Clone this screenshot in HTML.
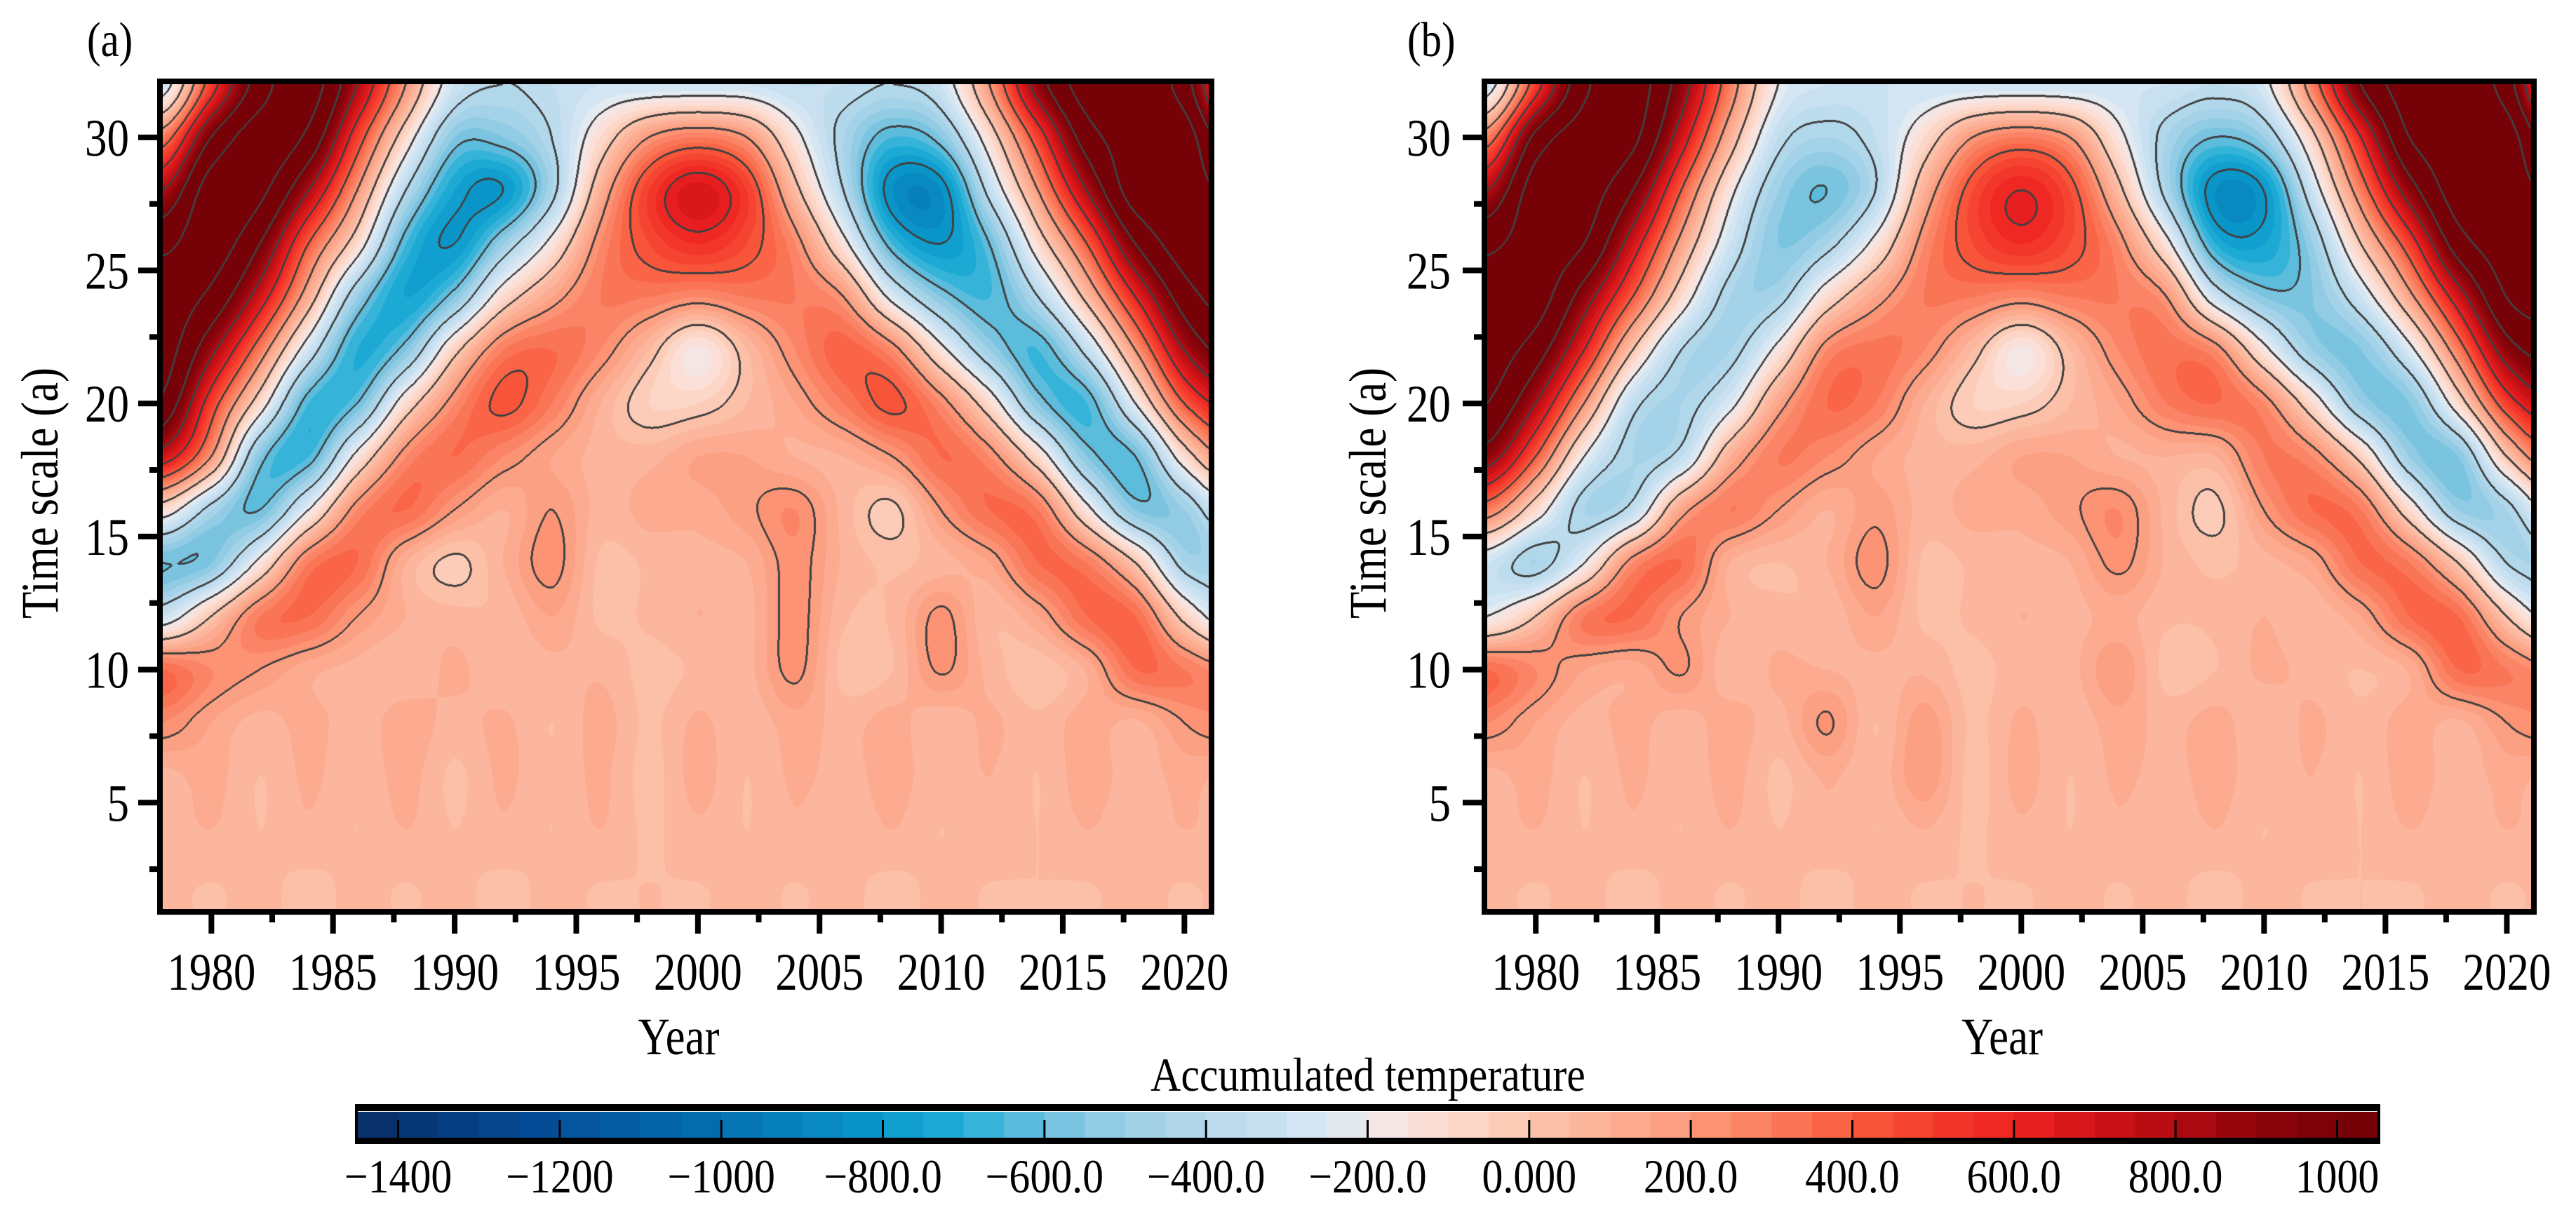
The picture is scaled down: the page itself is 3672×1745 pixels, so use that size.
<!DOCTYPE html>
<html><head><meta charset="utf-8">
<style>
html,body{margin:0;padding:0;background:#fff;}
#root{position:relative;width:3672px;height:1745px;overflow:hidden;background:#fff;font-family:"Liberation Serif",serif;}
canvas{position:absolute;}
svg{position:absolute;left:0;top:0;}
svg text{font-family:"Liberation Serif",serif;}
</style></head>
<body>
<div id="root">
<canvas id="cvA" style="left:232px;top:120px" width="1491" height="1176"></canvas>
<canvas id="cvB" style="left:2120px;top:120px" width="1488" height="1176"></canvas>
<svg id="ov" width="3672" height="1745"></svg>
</div>
<script>
// ---- data: grid columns (years) and rows (time scale) ----
const years = [1978,1980,1982,1984,1986,1988,1990,1992,1994,1996,1998,2000,2002,2004,2006,2008,2010,2012,2014,2016,2018,2020,2022];
const scales = [32,30,28,26,24,22,20,18,16,14,12,10,8,6,4,2,0];
const gridA = [
[-300,500,1100,1300,800,200,-300,-400,-350,-300,-300,-300,-300,-350,-350,-400,-300,200,900,1300,1300,1100,300],
[300,1000,1300,1150,500,-100,-550,-550,-400,-100,200,300,200,-150,-450,-650,-550,-100,500,1100,1300,1300,800],
[800,1300,1250,800,200,-400,-750,-800,-450,100,500,680,500,50,-400,-850,-850,-350,200,800,1300,1300,1150],
[1150,1300,1000,400,-100,-650,-800,-500,-150,250,450,550,450,250,-150,-650,-800,-600,-100,400,1000,1300,1300],
[1300,1150,700,100,-500,-750,-550,-100,150,300,300,250,300,300,200,-250,-550,-650,-400,50,600,1100,1300],
[1300,850,300,-300,-700,-550,-50,300,350,250,50,-170,50,250,380,250,-150,-500,-650,-350,200,800,1100],
[1150,500,-100,-650,-600,-100,250,420,300,100,-50,-50,50,150,300,420,250,-100,-550,-650,-200,400,700],
[700,200,-550,-650,-150,250,350,250,150,80,80,150,150,100,100,200,350,250,-100,-550,-600,-100,300],
[-100,-450,-600,-200,250,350,200,100,200,80,120,120,180,250,80,-20,200,350,300,-150,-550,-500,-200],
[-600,-550,-150,300,350,100,-20,100,230,40,60,80,100,230,90,40,80,150,350,300,0,-450,-450],
[-300,0,300,350,200,100,70,60,150,40,60,100,80,230,60,60,220,60,150,350,350,-50,-350],
[350,250,200,120,80,60,110,60,80,90,30,60,80,220,30,50,210,80,20,110,350,300,200],
[250,150,80,120,70,130,80,110,50,120,40,110,60,130,80,120,60,110,60,130,90,200,250],
[80,120,50,110,60,120,40,110,60,110,30,120,50,110,80,120,70,100,50,130,70,120,80],
[70,100,50,90,50,100,50,90,50,100,40,90,50,90,60,100,50,90,50,100,60,100,70],
[60,50,60,40,60,50,60,40,60,50,50,50,60,50,60,40,60,50,50,50,60,50,60],
[60,50,60,40,60,50,60,40,60,50,50,50,60,50,60,40,60,50,50,50,60,50,60]
];
const gridB = [
[-300,500,1150,1300,900,300,-200,-300,-300,-300,-300,-300,-300,-300,-300,-350,-250,300,1000,1300,1300,1100,300],
[300,1050,1300,1250,700,100,-350,-450,-350,-100,200,300,200,-150,-450,-600,-500,-50,600,1200,1300,1300,800],
[800,1300,1300,1000,400,-150,-500,-600,-400,100,450,600,450,50,-450,-850,-800,-300,300,900,1300,1300,1150],
[1150,1300,1200,700,150,-300,-550,-450,-150,250,450,550,450,250,-150,-700,-750,-500,0,500,1100,1300,1300],
[1300,1300,900,400,-100,-450,-450,-100,150,300,300,250,300,300,200,-300,-550,-550,-300,150,700,1200,1300],
[1300,1100,600,0,-400,-450,-150,250,320,250,50,-170,50,250,330,250,-150,-500,-550,-250,300,900,1100],
[1200,800,200,-350,-450,-250,150,350,300,100,-50,-50,50,150,300,350,250,-100,-500,-550,-100,500,800],
[900,400,-200,-450,-350,100,300,250,150,80,80,150,150,100,100,100,300,250,-50,-500,-550,0,400],
[300,-100,-450,-350,150,300,200,100,180,80,120,120,180,250,80,-20,200,350,300,-100,-500,-450,-100],
[-300,-450,-200,250,350,100,50,100,230,40,60,80,100,220,90,40,80,150,350,300,0,-400,-450],
[-200,0,300,350,200,100,70,60,150,40,60,100,80,120,60,60,100,60,150,350,350,0,-300],
[350,250,150,120,210,60,110,100,80,90,30,80,80,190,30,50,110,80,50,110,350,300,200],
[250,150,80,120,70,130,80,210,50,180,40,110,60,130,80,120,60,110,60,130,90,200,250],
[80,120,50,110,60,120,40,110,60,190,30,120,50,110,80,120,70,100,50,130,70,120,80],
[70,100,50,90,50,100,50,90,50,100,40,90,50,90,60,100,50,90,50,100,60,100,70],
[60,50,60,40,60,50,60,40,60,50,50,50,60,50,60,40,60,50,50,50,60,50,60],
[60,50,60,40,60,50,60,40,60,50,50,50,60,50,60,40,60,50,50,50,60,50,60]
];
const xTickLabels = ["1980","1985","1990","1995","2000","2005","2010","2015","2020"];
const xTickValues = [1980,1985,1990,1995,2000,2005,2010,2015,2020];
const yTickValues = [5,10,15,20,25,30];
const cbTickValues = [-1400,-1200,-1000,-800,-600,-400,-200,0,200,400,600,800,1000];
const cbTickLabels = ["\u22121400","\u22121200","\u22121000","\u2212800.0","\u2212600.0","\u2212400.0","\u2212200.0","0.000","200.0","400.0","600.0","800.0","1000"];

// colormap stops
const cmV=[-1450,-1200,-1000,-800,-700,-600,-500,-400,-300,-250,-200,-150,-50,0,100,200,300,400,500,600,700,800,900,1000,1050];
const cmC=["#0a2d66","#04509c","#0570b0","#0a9acb","#22afd7","#6ec0de","#9dd0e6","#b8d9ec","#cde3f2","#dbeaf5","#ebe9ea","#fbe4df","#fdd3c1","#fcc5ae","#fcb197","#fc9a7c","#fb7d5e","#f95c3f","#f43c2c","#ee2222","#d01418","#b30b12","#8e050c","#760207","#760207"];
function hex(c){return [parseInt(c.substr(1,2),16),parseInt(c.substr(3,2),16),parseInt(c.substr(5,2),16)];}
const cmRGB=cmC.map(hex);
function cmap(v){
  if(v<=cmV[0])return cmRGB[0];
  for(let i=1;i<cmV.length;i++){ if(v<=cmV[i]){const t=(v-cmV[i-1])/(cmV[i]-cmV[i-1]);const a=cmRGB[i-1],b=cmRGB[i];return [a[0]+(b[0]-a[0])*t,a[1]+(b[1]-a[1])*t,a[2]+(b[2]-a[2])*t];}}
  return cmRGB[cmRGB.length-1];
}
const binCol=[];for(let b=0;b<50;b++)binCol.push(cmap(-1450+b*50+25));

const X0=1978,X1=2021,S0=1,S1=32;
function cw(t){const t2=t*t,t3=t2*t;return [(-t3+2*t2-t)/2,(3*t3-5*t2+2)/2,(-3*t3+4*t2+t)/2,(t3-t2)/2];}
function render(cv,grid){
  const W=cv.width,H=cv.height,ctx=cv.getContext('2d');
  const img=ctx.createImageData(W,H),d=img.data;
  const nC=years.length,nR=scales.length;
  const val=new Float32Array(W*H);
  const xi=[],xw=[];
  for(let px=0;px<W;px++){const yr=X0+(px+0.5)/W*(X1-X0);const g=(yr-years[0])/(years[1]-years[0]);const i=Math.floor(g);xi.push(i);xw.push(cw(g-i));}
  const cl=(i,n)=>i<0?0:(i>n-1?n-1:i);
  for(let py=0;py<H;py++){
    const s=S1-(py+0.5)/H*(S1-S0);const g=(scales[0]-s)/(scales[0]-scales[1]);const j=Math.floor(g);const wy=cw(g-j);
    const rows=[grid[cl(j-1,nR)],grid[cl(j,nR)],grid[cl(j+1,nR)],grid[cl(j+2,nR)]];
    for(let px=0;px<W;px++){
      const i=xi[px],w=xw[px];let v=0;
      for(let a=0;a<4;a++){const r=rows[a];v+=wy[a]*(w[0]*r[cl(i-1,nC)]+w[1]*r[cl(i,nC)]+w[2]*r[cl(i+1,nC)]+w[3]*r[cl(i+2,nC)]);}
      val[py*W+px]=v;
    }
  }
  const lev=new Int16Array(W*H);
  for(let k=0;k<W*H;k++)lev[k]=Math.floor(val[k]/200);
  for(let py=0;py<H;py++)for(let px=0;px<W;px++){
    const k=py*W+px,L=lev[k];
    let line=false;
    if(px>0&&lev[k-1]!==L)line=true;else if(px<W-1&&lev[k+1]!==L)line=true;else if(px<W-2&&lev[k+2]!==L)line=true;
    else if(py>0&&lev[k-W]!==L)line=true;else if(py<H-1&&lev[k+W]!==L)line=true;else if(py<H-2&&lev[k+2*W]!==L)line=true;
    let c;
    if(line)c=[64,64,64];else{let b=Math.floor((val[k]+1450)/50);b=b<0?0:(b>49?49:b);c=binCol[b];}
    d[k*4]=c[0];d[k*4+1]=c[1];d[k*4+2]=c[2];d[k*4+3]=255;
  }
  ctx.putImageData(img,0,0);
}
render(document.getElementById('cvA'),gridA);
render(document.getElementById('cvB'),gridB);

// ---- overlay ----
const NS="http://www.w3.org/2000/svg";
const ov=document.getElementById('ov');
function mk(tag,attrs,parent){const e=document.createElementNS(NS,tag);for(const k in attrs)e.setAttribute(k,attrs[k]);(parent||ov).appendChild(e);return e;}
function txt(str,x,y,size,anchor,sx,parent){
  const t=mk('text',{transform:`translate(${x},${y}) scale(${sx},1)`,'font-size':size,'text-anchor':anchor,fill:'#000'},parent);
  t.textContent=str;return t;
}
function panel(px0,pw,label,labelX,yLabRight,yTitleX,nm){
  const g=mk('g',{});
  
  
  const top=120,H=1176,bot=top+H;
  const fx=v=>px0+(v-X0)/(X1-X0)*pw;
  const fy=v=>bot-(v-S0)/(S1-S0)*H;
  const fr=mk('rect',{x:px0-4,y:top-4,width:pw+8,height:H+8,fill:'none',stroke:'#000','stroke-width':8},g);
  
  
  for(let v=1980;v<=2020;v+=2.5){
    const major=(v%5===0);
    const l=mk('line',{x1:fx(v),x2:fx(v),y1:bot+8,y2:bot+(major?35:19),stroke:'#000','stroke-width':8},g);
    
    
  }
  xTickValues.forEach((v,i)=>{
    const t=txt(xTickLabels[i],fx(v),1411,75,'middle',0.84,g);
    
    
  });
  for(let v=2.5;v<=30;v+=2.5){
    const major=(v%5===0);
    const l=mk('line',{x1:px0-8,x2:px0-(major?35:19),y1:fy(v),y2:fy(v),stroke:'#000','stroke-width':8},g);
    
    
  }
  yTickValues.forEach(v=>{
    const t=txt(String(v),yLabRight,fy(v)+26,75,'end',0.84,g);
    
    
  });
  const yt=mk('text',{transform:`translate(${yTitleX},703) rotate(-90) scale(0.84,1)`,'font-size':75,'text-anchor':'middle'},g);
  yt.textContent='Time scale (a)';
  
  
  const xt=txt('Year',px0+pw/2-10,1503,75,'middle',0.84,g);
  
  
  const pl=txt(label,labelX,80,70,'start',0.84,g);
  
  
}
panel(232,1491,'(a)',124,184,82,'panel-a');
panel(2120,1488,'(b)',2006,2068,1975,'panel-b');

// colorbar
const cb=mk('g',{});


const cbL=510,cbR=3389,cbT=1585,cbB=1623;
const cbx=v=>cbL+(v+1450)/2500*(cbR-cbL);
for(let b=0;b<50;b++){
  const c=binCol[b];
  const r=mk('rect',{x:cbx(-1450+b*50),y:cbT,width:cbx(-1400+b*50)-cbx(-1450+b*50)+0.8,height:cbB-cbT,fill:`rgb(${c[0]|0},${c[1]|0},${c[2]|0})`},cb);
  
  
}
const cbf=mk('rect',{x:cbL-2,y:cbT-4,width:cbR-cbL+4,height:cbB-cbT+8,fill:'none',stroke:'#000','stroke-width':4},cb);


const cbt1=mk('rect',{x:cbL-4,y:1574,width:cbR-cbL+8,height:10,fill:'#000'},cb);


const cbt2=mk('rect',{x:cbL-4,y:1622,width:cbR-cbL+8,height:9,fill:'#000'},cb);


cbTickValues.forEach((v,i)=>{
  const l=mk('line',{x1:cbx(v),x2:cbx(v),y1:1597,y2:1622,stroke:'#000','stroke-width':3},cb);
  
  
  const t=txt(cbTickLabels[i],cbx(v),1700,68,'middle',0.88,cb);
  
  
});
const cbTitle=txt('Accumulated temperature',1950,1555,68,'middle',0.88,cb);


</script>
</body></html>
